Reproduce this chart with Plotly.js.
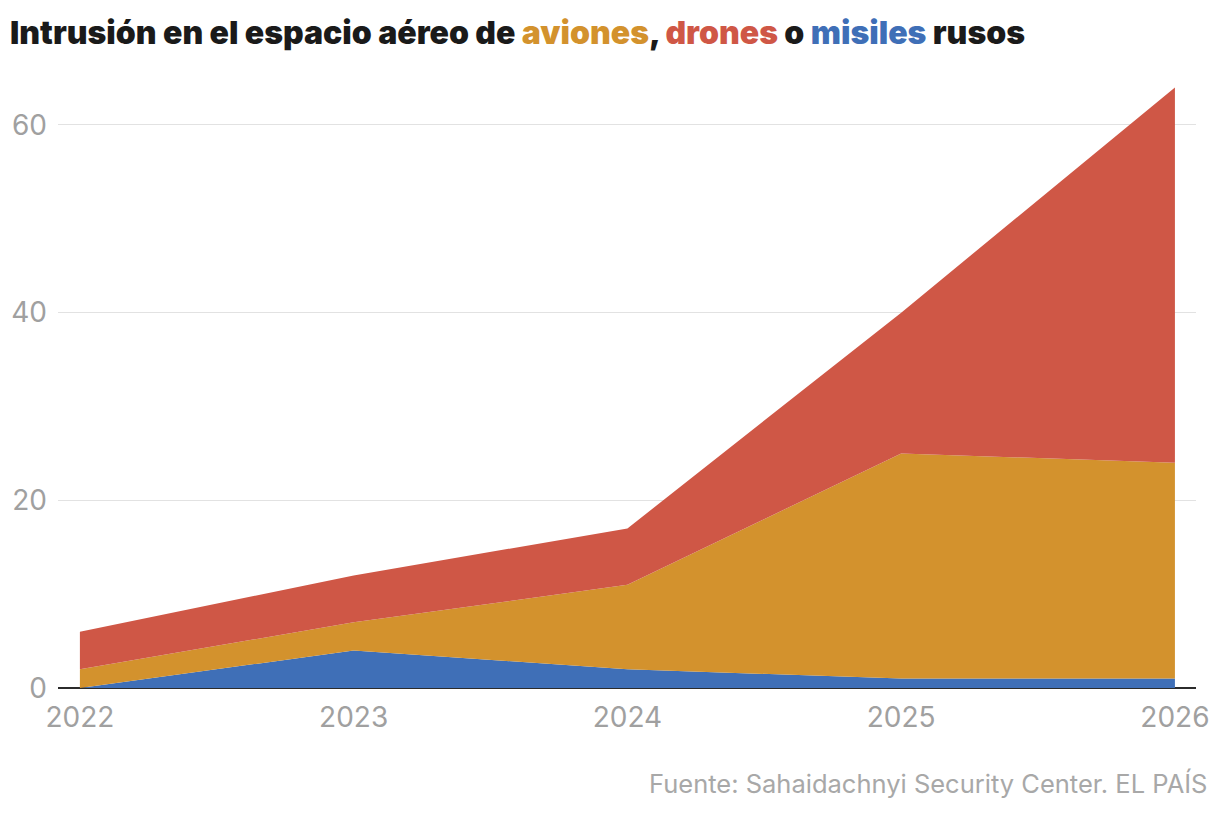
<!DOCTYPE html>
<html>
<head>
<meta charset="utf-8">
<script src="https://cdn.plot.ly/plotly-3.0.1.min.js"></script>
<style>html,body{margin:0;padding:0;background:#fff}#chart{width:1220px;height:814px}</style>
</head>
<body>
<div id="chart"></div>
<script>
const years = [2022, 2023, 2024, 2025, 2026];
const misiles = [0, 4, 2, 1, 1];
const aviones = [2, 3, 9, 24, 23];
const drones = [4, 5, 6, 15, 40];
const yTicks = [0, 20, 40, 60];
const xTicks = [2022, 2023, 2024, 2025, 2026];

const mk = (name, y, color) => ({
  x: years, y: y, name: name, type: 'scatter', mode: 'lines',
  stackgroup: 'one', line: {width: 0, color: color}, fillcolor: color,
  hoverinfo: 'x+y+name'
});

const data = [
  mk('misiles', misiles, '#3f6fb7'),
  mk('aviones', aviones, '#d3922d'),
  mk('drones', drones, '#cf5746')
];

const layout = {
  width: 1220, height: 814,
  paper_bgcolor: '#fff', plot_bgcolor: '#fff',
  margin: {l: 58, r: 24, t: 79, b: 126},
  showlegend: false,
  font: {family: 'Inter, Roboto, sans-serif', color: '#9e9e9e'},
  title: {
    text: 'Intrusión en el espacio aéreo de <span style="color:#d3922d">aviones</span>, <span style="color:#cf5746">drones</span> o <span style="color:#3f6fb7">misiles</span> rusos',
    font: {family: 'Inter, Roboto, sans-serif', size: 32, color: '#1a1a1a', weight: 900},
    xref: 'container', yref: 'container', x: 10/1220, xanchor: 'left', y: 1 - 33/814, yanchor: 'middle'
  },
  xaxis: {
    range: [2021.92, 2026.077], tickvals: xTicks, ticktext: xTicks.map(String),
    showgrid: false, zeroline: false, showline: false, ticks: '',
    ticklabelstandoff: 10,
    tickfont: {size: 28, color: '#a0a0a0'}, fixedrange: true
  },
  yaxis: {
    range: [0, 64.9], tickvals: yTicks, ticktext: yTicks.map(String),
    showgrid: true, gridcolor: '#e2e2e2', gridwidth: 1,
    zeroline: true, zerolinecolor: '#2b2b2b', zerolinewidth: 2,
    showline: false, ticks: '', ticklabelstandoff: 10,
    tickfont: {size: 28, color: '#a0a0a0'}, fixedrange: true
  },
  annotations: [{
    text: 'Fuente: Sahaidachnyi Security Center. EL PAÍS',
    xref: 'paper', yref: 'paper', x: (1209-58)/(1220-58-24), xanchor: 'right',
    y: 0, yshift: -95, yanchor: 'middle', showarrow: false,
    font: {size: 25.5, color: '#a8a8a8', family: 'Inter, Roboto, sans-serif'}
  }]
};

Plotly.newPlot('chart', data, layout, {displayModeBar: false, staticPlot: true});
</script>
</body>
</html>
